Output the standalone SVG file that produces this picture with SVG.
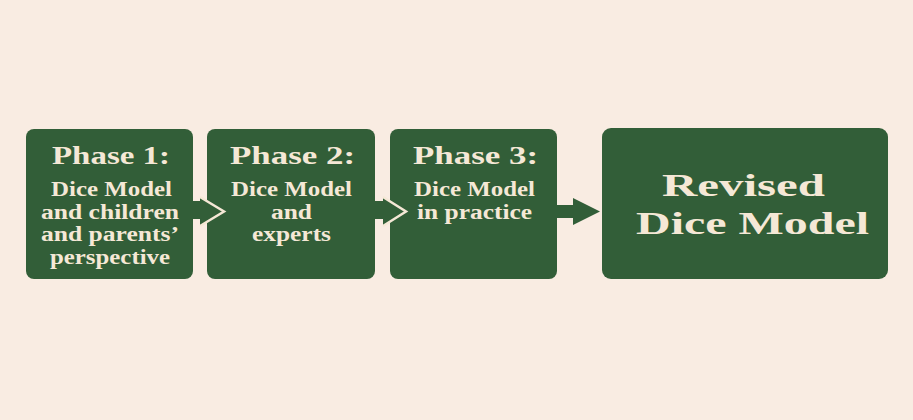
<svg xmlns="http://www.w3.org/2000/svg" width="913" height="420" viewBox="0 0 913 420">
  <style>
    .box { fill: #325e38; }
    .t { fill: #f5e8d6; font-family: "Liberation Serif", "Times New Roman", serif; font-weight: bold; }
    .h { font-size: 25px; }
    .b { font-size: 20.5px; }
    .big { font-size: 32px; }
    .arrow { fill: #325e38; }
    .chev { fill: none; stroke: #f5e8d6; stroke-width: 2.5; stroke-linejoin: miter; }
  </style>
  <rect x="0" y="0" width="913" height="420" fill="#f9ece2"/>

  <g id="phase1">
    <rect class="box" x="26" y="129" width="167" height="150" rx="8"/>
    <text class="t h" x="52" y="163.5" textLength="118" lengthAdjust="spacingAndGlyphs">Phase 1:</text>
    <text class="t b" x="51" y="196" textLength="121" lengthAdjust="spacingAndGlyphs">Dice Model</text>
    <text class="t b" x="41" y="218.7" textLength="138" lengthAdjust="spacingAndGlyphs">and children</text>
    <text class="t b" x="41" y="241.4" textLength="138" lengthAdjust="spacingAndGlyphs">and parents’</text>
    <text class="t b" x="50" y="264.1" textLength="120" lengthAdjust="spacingAndGlyphs">perspective</text>
  </g>

  <g id="phase2">
    <rect class="box" x="207" y="129" width="168" height="150" rx="8"/>
    <text class="t h" x="230" y="163.5" textLength="125" lengthAdjust="spacingAndGlyphs">Phase 2:</text>
    <text class="t b" x="231" y="196" textLength="121" lengthAdjust="spacingAndGlyphs">Dice Model</text>
    <text class="t b" x="271" y="218.7" textLength="41" lengthAdjust="spacingAndGlyphs">and</text>
    <text class="t b" x="252" y="241.4" textLength="79" lengthAdjust="spacingAndGlyphs">experts</text>
  </g>

  <g id="phase3">
    <rect class="box" x="390" y="129" width="167" height="150" rx="8"/>
    <text class="t h" x="413" y="163.5" textLength="125" lengthAdjust="spacingAndGlyphs">Phase 3:</text>
    <text class="t b" x="414" y="196" textLength="121" lengthAdjust="spacingAndGlyphs">Dice Model</text>
    <text class="t b" x="417" y="218.7" textLength="115" lengthAdjust="spacingAndGlyphs">in practice</text>
  </g>

  <g id="revised">
    <rect class="box" x="602" y="128" width="286" height="151" rx="9"/>
    <text class="t big" x="662" y="196" textLength="163" lengthAdjust="spacingAndGlyphs">Revised</text>
    <text class="t big" x="636" y="233.5" textLength="233" lengthAdjust="spacingAndGlyphs">Dice Model</text>
  </g>

  <g id="connectors">
    <polygon class="arrow" points="192,201 200,201 200,197 224,211.5 200,226 200,219 192,219"/>
    <polyline class="chev" points="200,197 224,211.5 200,226"/>
    <polygon class="arrow" points="374,201 383,201 383,197 406,211.5 383,226 383,219 374,219"/>
    <polyline class="chev" points="383,197 406,211.5 383,226"/>
    <polygon class="arrow" points="556,205 573,205 573,198 600,211.5 573,225 573,218 556,218"/>
  </g>
</svg>
